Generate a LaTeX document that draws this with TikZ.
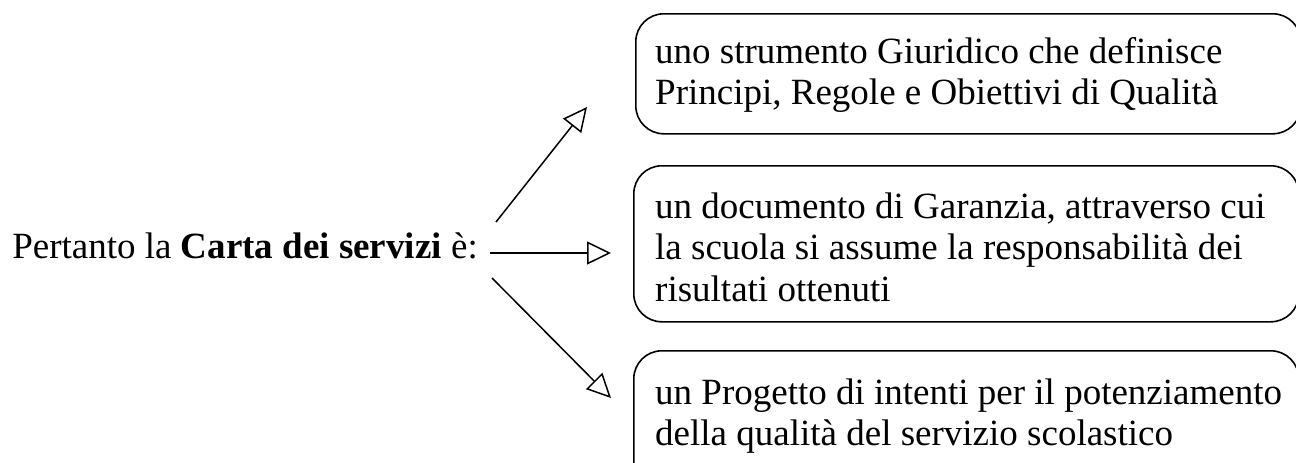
\documentclass[tikz,border=0pt]{standalone}
\usepackage{fontspec}
\setmainfont{Liberation Serif}
\usetikzlibrary{arrows.meta}
\tikzset{
  box/.style={draw, line width=1.6pt, rounded corners=28pt, anchor=north west, inner sep=0pt},
  txt/.style={anchor=base west, inner sep=0pt, align=left, font=\fontsize{37}{41.5}\selectfont},
  conn/.style={line width=1.5pt, -{Triangle[open, length=24pt, width=23pt, line width=1.5pt]}}
}
\begin{document}
\begin{tikzpicture}[x=1pt, y=-1pt]
\useasboundingbox (0,0) rectangle (1296,463);
% boxes
\node[box, minimum width=665pt, minimum height=120pt] (b1) at (635,13) {};
\node[box, minimum width=665pt, minimum height=156pt] (b2) at (633,165) {};
\node[box, minimum width=665pt, minimum height=140pt] (b3) at (633,350) {};
% texts (base = baseline of last line)
\node[txt] (t1) at (655,104.5) {uno strumento Giuridico che definisce\\Principi, Regole e Obiettivi di Qualità};
\node[txt] (t2) at (655,301) {un documento di Garanzia, attraverso cui\\la scuola si assume la responsabilità dei\\risultati ottenuti};
\node[txt] (t3) at (655,445.5) {un Progetto di intenti per il potenziamento\\della qualità del servizio scolastico};
\node[txt, anchor=base east] (lab) at (478,258) {Pertanto la \textbf{Carta dei servizi} è:};
% connector end points
\coordinate (s1) at (496,222);
\coordinate (s2) at (490,253);
\coordinate (s3) at (492,278);
\coordinate (e1) at (587,107);
\coordinate (e2) at (611,253);
\coordinate (e3) at (611,398);
\draw[conn] (s1) -- (e1);
\draw[conn] (s2) -- (e2);
\draw[conn] (s3) -- (e3);
\end{tikzpicture}
\end{document}
